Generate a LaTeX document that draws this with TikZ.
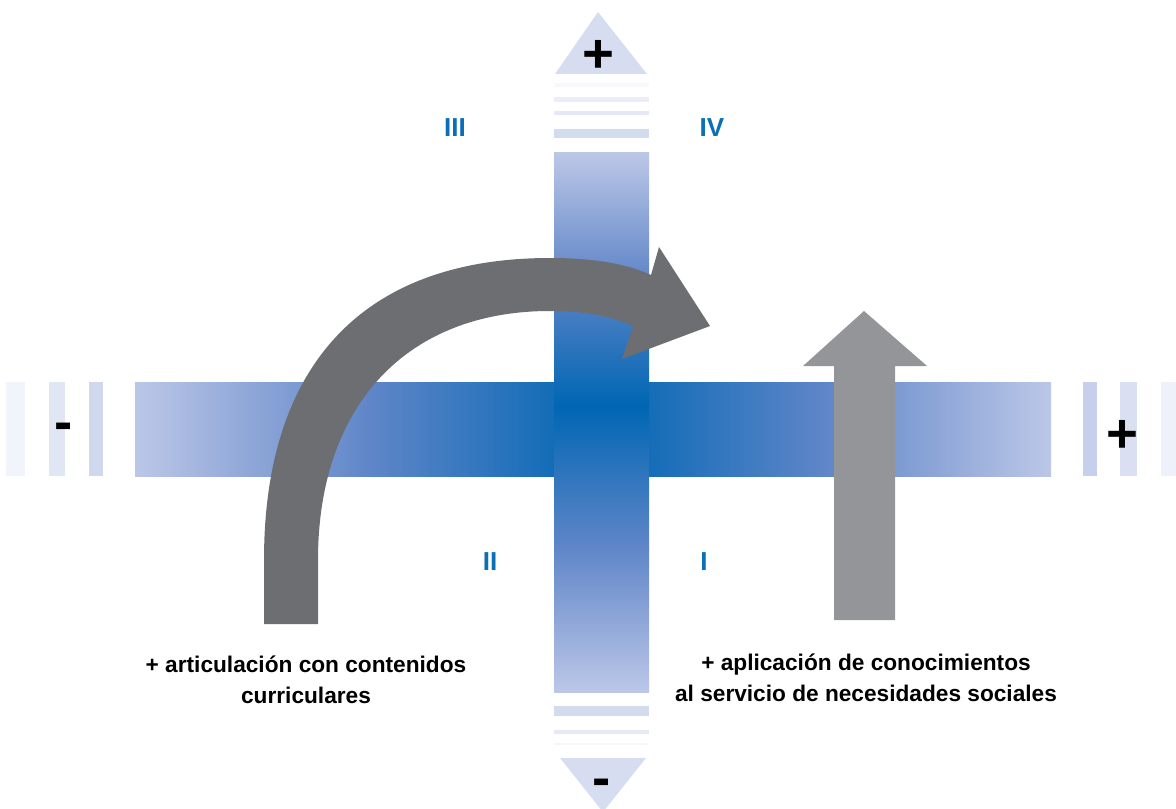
\documentclass[tikz,border=0pt]{standalone}
\usepackage{fontspec}
\setmainfont{Liberation Sans}
\usepackage{tikz}
\definecolor{barend}{RGB}{188,199,231}
\definecolor{barhalf}{RGB}{96,134,200}
\definecolor{barmid}{RGB}{0,102,179}
\definecolor{numblue}{RGB}{11,111,183}
\definecolor{arrowdark}{RGB}{109,110,113}
\definecolor{arrowlight}{RGB}{147,149,152}
\tikzstyle{every picture}+=[line join=miter]

\begin{document}
\begin{tikzpicture}[x=0.75pt,y=0.75pt,every node/.style={inner sep=0pt,font=\bfseries},
    quad/.style={text=numblue,font=\fontsize{19.5}{19.5}\selectfont\bfseries},
    sign/.style={font=\fontsize{41}{41}\selectfont\bfseries},
    note/.style={align=center,font=\fontsize{17}{23.25}\selectfont\bfseries}]
  \useasboundingbox (0,0) rectangle (1176,808);
  \fill[barend!20] (6,332) rectangle (25,426);
  \fill[barend!45] (49,332) rectangle (65,426);
  \fill[barend!70] (89,332) rectangle (103,426);
  \fill[barend!85] (1083,332) rectangle (1097,426);
  \fill[barend!55] (1120,332) rectangle (1137,426);
  \fill[barend!25] (1161,332) rectangle (1176,426);
  \fill[barend!10] (554,721) rectangle (649,725);
  \fill[barend!30] (554,706) rectangle (649,711);
  \fill[barend!40] (554,693) rectangle (649,697);
  \fill[barend!65] (554,670) rectangle (649,679);
  \fill[barend!65] (554,92) rectangle (649,102);
  \fill[barend!40] (554,74) rectangle (649,78);
  \fill[barend!15] (554,63) rectangle (649,65);
  \fill[barend!60] (555,734) -- (598,796) -- (647,734) -- cycle;
  \fill[barend!60] (560,50) -- (603,-4) -- (646,50) -- cycle;
  \shade[left color=barend,right color=barhalf] (135,332) rectangle (368,426);
  \shade[left color=barhalf,right color=barmid] (367.5,332) rectangle (600,426);
  \shade[left color=barmid,right color=barhalf] (600,332) rectangle (826,426);
  \shade[left color=barhalf,right color=barend] (825.5,332) rectangle (1051,426);
  \shade[top color=barend,bottom color=barhalf] (554,529) rectangle (649,655);
  \shade[top color=barhalf,bottom color=barmid] (554,403) rectangle (649,529.5);
  \shade[top color=barmid,bottom color=barhalf] (554,259.5) rectangle (649,403);
  \shade[top color=barhalf,bottom color=barend] (554,116) rectangle (649,260);
  \fill[arrowdark] (264,184) -- (264,248) .. controls (264,444) and (364,550) .. (550,550)
    .. controls (590,550) and (625,545) .. (651,533) -- (659,561) -- (710,482) -- (622,449)
    -- (633,482) .. controls (610,492) and (585,497) .. (550,497)
    .. controls (406,497) and (318,402) .. (318,248) -- (318,184) -- cycle;
  \fill[arrowlight] (834,188) -- (834,442) -- (803,442) -- (864,497) -- (927,442)
    -- (895,442) -- (895,188) -- cycle;
  \node[sign] (plustop) at (598,752) {+};
  \node[sign] (minusbottom) at (602,20) {-};
  \node[sign] (minusleft) at (64,376) {-};
  \node[sign] (plusright) at (1122,372) {+};
  \node[quad] (q3) at (455,680) {III};
  \node[quad] (q4) at (712,680) {IV};
  \node[quad] (q2) at (490,246) {II};
  \node[quad] (q1) at (704,246) {I};
  \node[note] (curricular) at (306,128) {+ articulación con contenidos\\curriculares};
  \node[note] (social) at (866,130) {+ aplicación de conocimientos\\al servicio de necesidades sociales};
\end{tikzpicture}
\end{document}
